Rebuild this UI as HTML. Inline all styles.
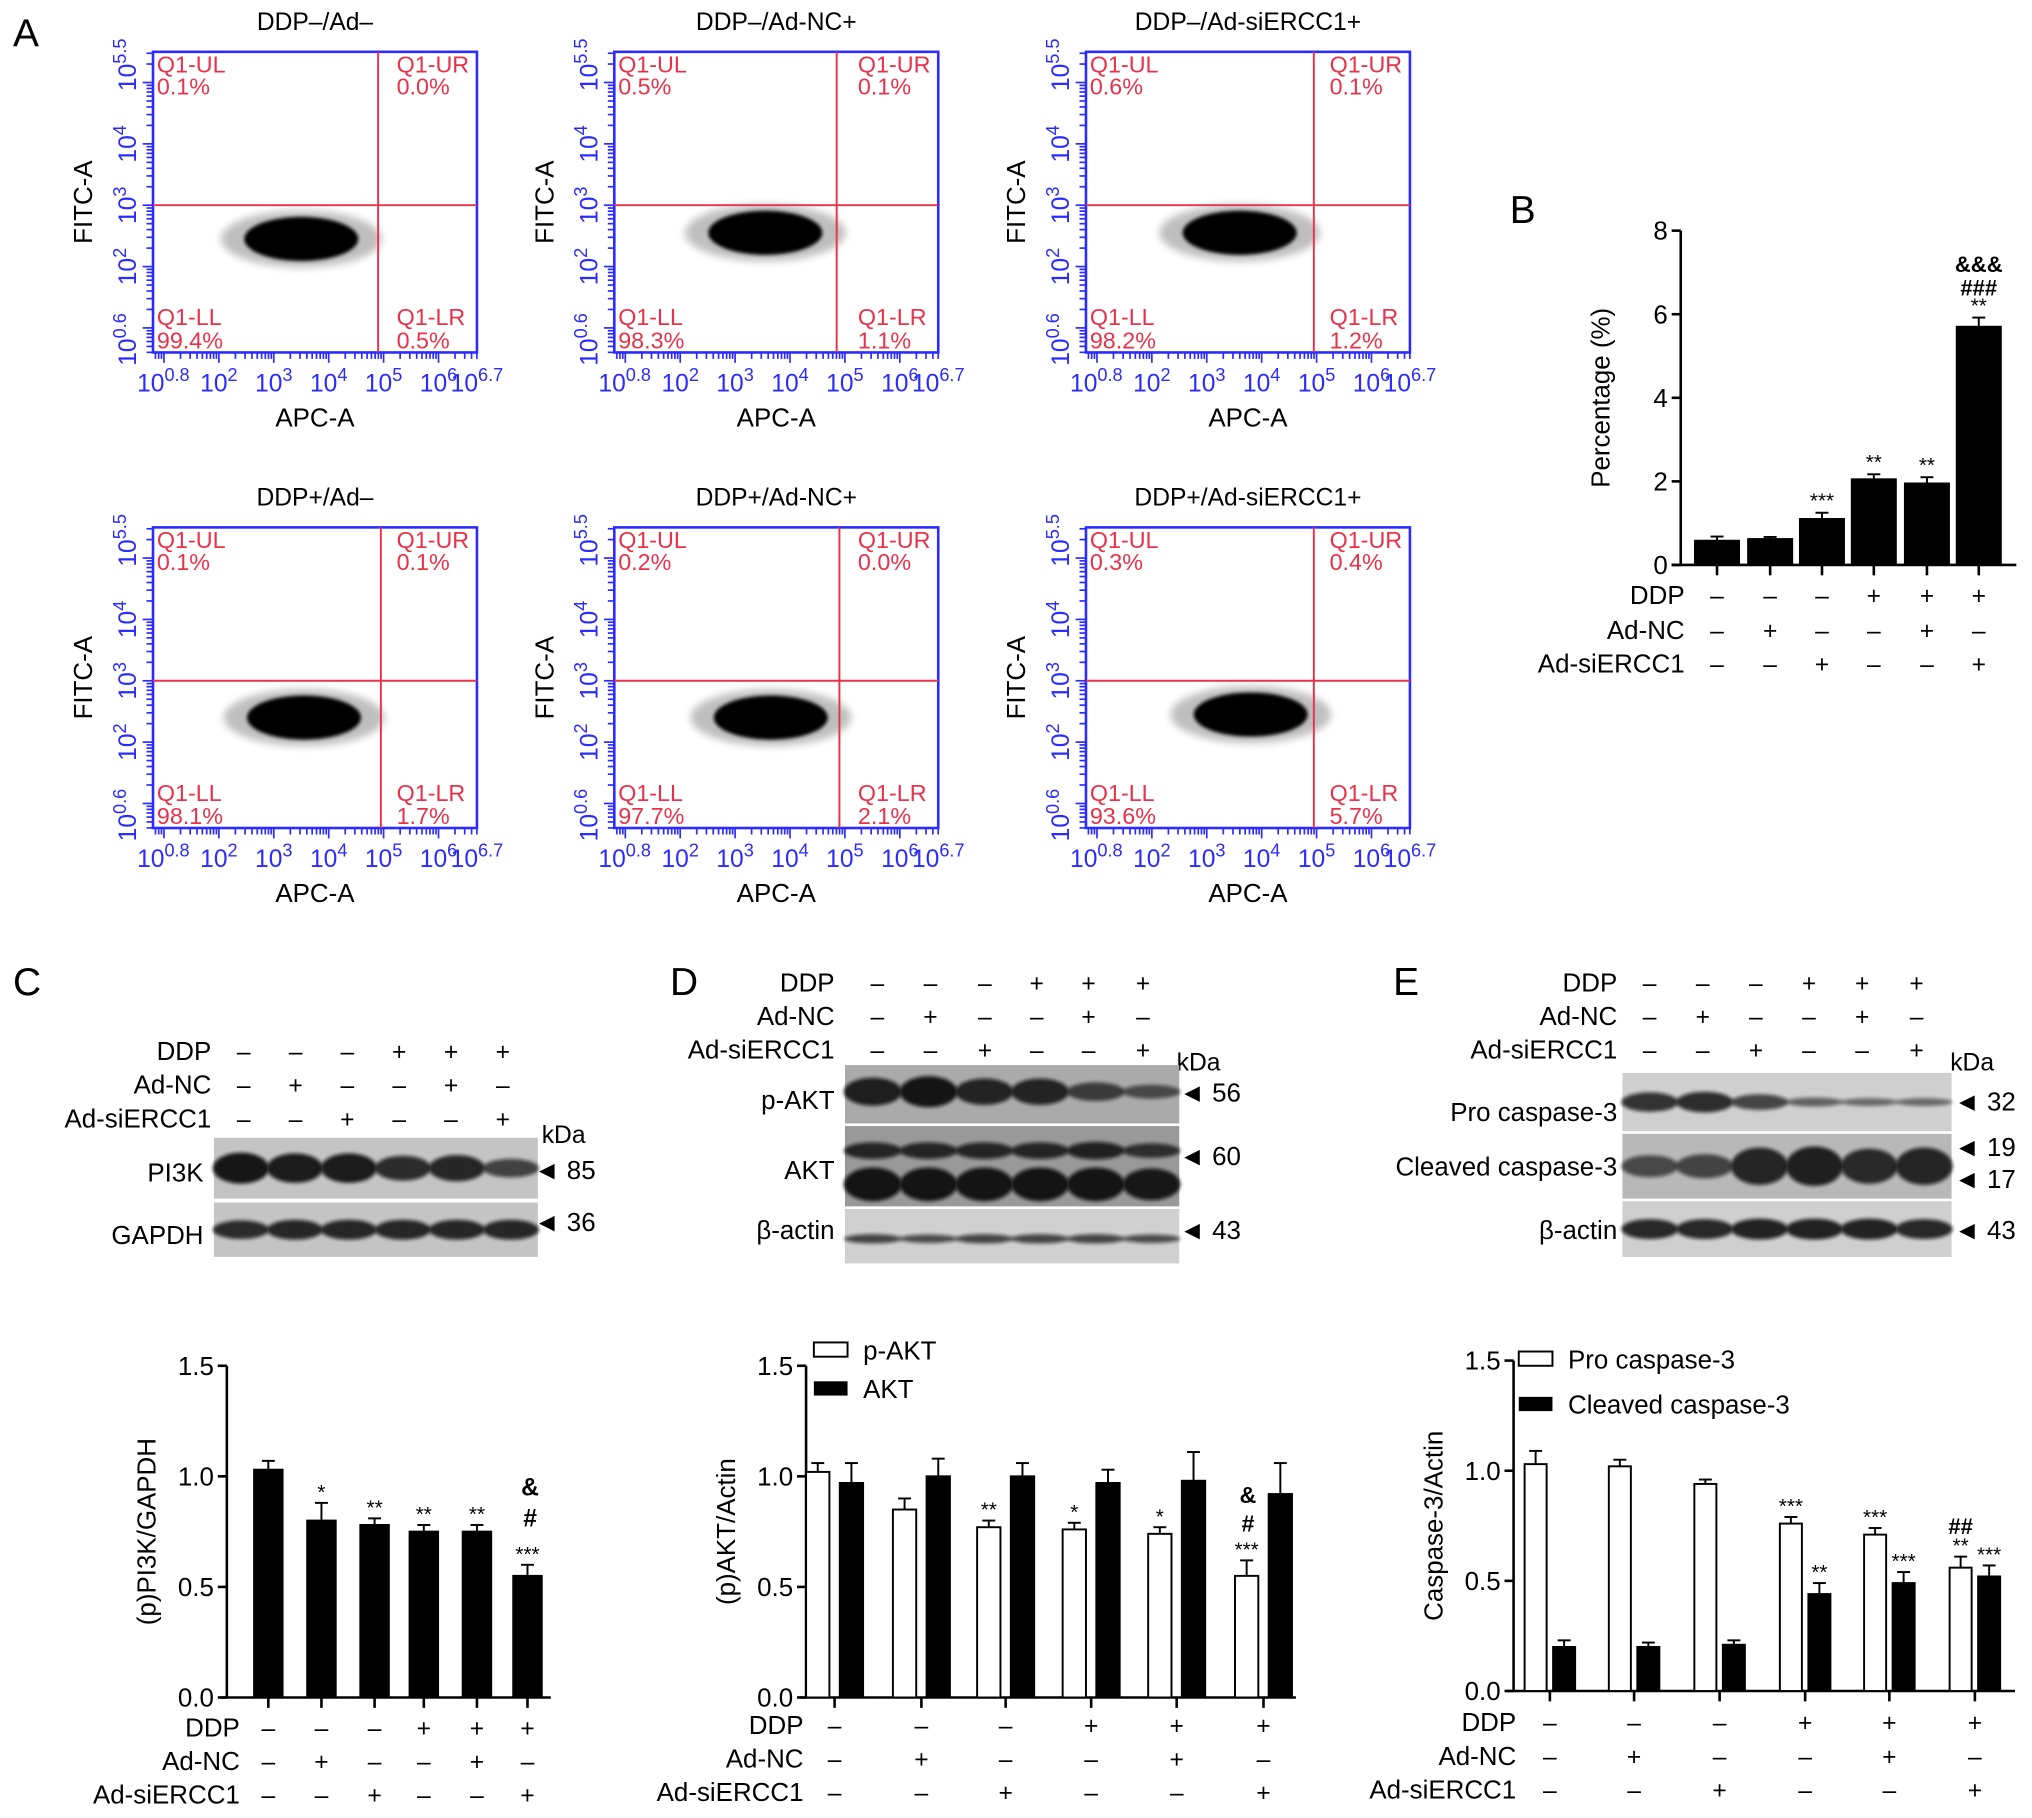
<!DOCTYPE html>
<html><head><meta charset="utf-8">
<style>
html,body{margin:0;padding:0;background:#fff;}
svg{display:block;font-family:"Liberation Sans",Arial,sans-serif;}
</style></head>
<body>
<svg id="fig" width="2032" height="1818" viewBox="0 0 1568 1403" xmlns="http://www.w3.org/2000/svg">
<defs><filter id="blur" x="-20%" y="-50%" width="140%" height="200%"><feGaussianBlur stdDeviation="3"/></filter>
<filter id="blur2" x="-20%" y="-50%" width="140%" height="200%"><feGaussianBlur stdDeviation="1.5"/></filter></defs>
<rect width="1568" height="1403" fill="#fff"/>
<text x="10" y="36" font-size="30">A</text>
<text x="1165" y="172" font-size="30">B</text>
<text x="10" y="768" font-size="30">C</text>
<text x="517" y="768" font-size="30">D</text>
<text x="1075" y="768" font-size="30">E</text>
</svg>
<script>
// ---------- DATA ----------
const flowTitles=["DDP–/Ad–","DDP–/Ad-NC+","DDP–/Ad-siERCC1+","DDP+/Ad–","DDP+/Ad-NC+","DDP+/Ad-siERCC1+"];
const flowUL=["0.1%","0.5%","0.6%","0.1%","0.2%","0.3%"];
const flowUR=["0.0%","0.1%","0.1%","0.1%","0.0%","0.4%"];
const flowLL=["99.4%","98.3%","98.2%","98.1%","97.7%","93.6%"];
const flowLR=["0.5%","1.1%","1.2%","1.7%","2.1%","5.7%"];
const flowGateX=[4.9,4.85,4.95,4.95,4.9,4.95];
const flowGateY=[3.0,3.0,3.0,3.0,3.0,3.0];
const cloudCX=[3.5,3.55,3.6,3.55,3.65,3.8];
const cloudCY=[2.45,2.55,2.55,2.4,2.4,2.45];
const xTickLabels=["0.8","2","3","4","5","6","6.7"];
const xTickVals=[0.8,2,3,4,5,6,6.7];
const yTickLabels=["0.6","2","3","4","5.5"];
const yTickVals=[0.6,2,3,4,5.5];

const bCats=["g1","g2","g3","g4","g5","g6"];
const bVals=[0.58,0.62,1.1,2.05,1.95,5.7];
const bErr=[0.1,0.05,0.15,0.12,0.15,0.22];
const bSig=["","","***","**","**","**"];
const bYTicks=[0,2,4,6,8];
const ddpSigns=["–","–","–","+","+","+"];
const ncSigns=["–","+","–","–","+","–"];
const siSigns=["–","–","+","–","–","+"];

const cVals=[1.03,0.8,0.78,0.75,0.75,0.55];
const cErr=[0.04,0.08,0.03,0.03,0.03,0.05];
const cSig=["","*","**","**","**","***"];
const dWhite=[1.02,0.85,0.77,0.76,0.74,0.55];
const dWhiteErr=[0.04,0.05,0.03,0.03,0.03,0.07];
const dBlack=[0.97,1.0,1.0,0.97,0.98,0.92];
const dBlackErr=[0.09,0.08,0.06,0.06,0.13,0.14];
const dSig=["","","**","*","*","***"];
const eWhite=[1.03,1.02,0.94,0.76,0.71,0.56];
const eWhiteErr=[0.06,0.03,0.02,0.03,0.03,0.05];
const eBlack=[0.2,0.2,0.21,0.44,0.49,0.52];
const eBlackErr=[0.03,0.02,0.02,0.05,0.05,0.05];
const eSigW=["","","","***","***","**"];
const eSigB=["","","","**","***","***"];
const barTicks=[0,0.5,1.0,1.5];
const barTickLabels=["0.0","0.5","1.0","1.5"];

// ---------- helpers ----------
const svg=document.getElementById('fig');
const NS="http://www.w3.org/2000/svg";
function el(tag,attrs,parent){const e=document.createElementNS(NS,tag);for(const k in attrs)e.setAttribute(k,attrs[k]);(parent||svg).appendChild(e);return e;}
function txt(x,y,s,size,attrs,parent){const e=el('text',Object.assign({x:x,y:y,'font-size':size},attrs||{}),parent);e.textContent=s;return e;}

// ---------- flow plots ----------
const flowBoxes=[[118,40],[474,40],[838,40],[118,407],[474,407],[838,407]];
const FW=250,FH=232;
flowBoxes.forEach((b,i)=>{
  const g=el('g',{});
  
  
  const x0=b[0],y0=b[1];
  const sx=v=>x0+(v-0.8)/5.9*FW;
  const sy=v=>y0+FH-(v-0.6)/4.9*FH;
  const t=txt(x0+FW/2,y0-17,flowTitles[i],19,{'text-anchor':'middle'},g);
  
  const cx=sx(cloudCX[i]),cy=sy(cloudCY[i]);
  const c1=el('ellipse',{cx:cx,cy:cy,rx:62,ry:22,fill:'#000',opacity:0.25,filter:'url(#blur)'},g);
  
  const c2=el('ellipse',{cx:cx,cy:cy,rx:44,ry:17,fill:'#000',filter:'url(#blur2)'},g);
  
  const r=el('rect',{x:x0,y:y0,width:FW,height:FH,fill:'none',stroke:'#2b2bff','stroke-width':2},g);
  
  const gx=sx(flowGateX[i]),gy=sy(flowGateY[i]);
  const l1=el('line',{x1:gx,y1:y0,x2:gx,y2:y0+FH,stroke:'#e8324a','stroke-width':1.5},g);
  
  const l2=el('line',{x1:x0,y1:gy,x2:x0+FW,y2:gy,stroke:'#e8324a','stroke-width':1.5},g);
  
  const rx=x0+FW-62;
  [["Q1-UL",x0+3,y0+16],[flowUL[i],x0+3,y0+33],["Q1-UR",rx,y0+16],[flowUR[i],rx,y0+33],
   ["Q1-LL",x0+3,y0+FH-21],[flowLL[i],x0+3,y0+FH-3],["Q1-LR",rx,y0+FH-21],[flowLR[i],rx,y0+FH-3]].forEach(q=>{
    const e=txt(q[1],q[2],q[0],18,{fill:'#e8324a'},g);
    
  });
  for(let d=0;d<=6;d++){for(let m=1;m<10;m++){const v=d+Math.log10(m);if(v<0.8||v>6.7)continue;
    el('line',{x1:sx(v),y1:y0+FH,x2:sx(v),y2:y0+FH+(m==1?8:5),stroke:'#2b2bff','stroke-width':1.3},g);}}
  for(let d=0;d<=5;d++){for(let m=1;m<10;m++){const v=d+Math.log10(m);if(v<0.6||v>5.5)continue;
    el('line',{x1:x0,y1:sy(v),x2:x0-(m==1?8:5),y2:sy(v),stroke:'#2b2bff','stroke-width':1.3},g);}}
  xTickVals.forEach((v,k)=>{
    const e=el('text',{x:sx(v)+(k==0?8:0),y:y0+FH+30,'font-size':19,fill:'#2b2bff','text-anchor':'middle'},g);
    
    e.innerHTML='10<tspan dy="-8" font-size="14">'+xTickLabels[k]+'</tspan>';
  });
  yTickVals.forEach((v,k)=>{
    const e=el('text',{x:0,y:0,'font-size':19,fill:'#2b2bff','text-anchor':'middle',transform:`translate(${x0-13},${sy(v)+(k==0?-10:k==4?10:0)}) rotate(-90)`},g);
    
    e.innerHTML='10<tspan dy="-8" font-size="14">'+yTickLabels[k]+'</tspan>';
  });
  const xa=txt(x0+FW/2,y0+FH+57,"APC-A",20,{'text-anchor':'middle'},g);
  
  const ya=txt(0,0,"FITC-A",20,{'text-anchor':'middle',transform:`translate(${x0-47},${y0+FH/2}) rotate(-90)`},g);
  
});

function signTable(xs,ys,labelX,name,fs){
  const g=el('g',{});
  
  
  const rows=[["DDP",ddpSigns],["Ad-NC",ncSigns],["Ad-siERCC1",siSigns]];
  rows.forEach((r,ri)=>{
    const l=txt(labelX,ys[ri],r[0],fs||20,{'text-anchor':'end'},g);
    
    r[1].forEach((s,ci)=>{const e=txt(xs[ci],ys[ri],s,19,{'text-anchor':'middle'},g);
      });
  });
}

function barAxis(ax,yTop,yBot,maxV,ticks,labels,title,name){
  const g=el('g',{});
  
  
  const sy=v=>yBot-(v/maxV)*(yBot-yTop);
  el('line',{x1:ax,y1:yTop,x2:ax,y2:yBot,stroke:'#000','stroke-width':2},g);
  ticks.forEach((v,k)=>{el('line',{x1:ax-7,y1:sy(v),x2:ax,y2:sy(v),stroke:'#000','stroke-width':2},g);
    const e=txt(ax-10,sy(v)+7,labels[k],20,{'text-anchor':'end'},g);
    });
  const t=txt(0,0,title,20,{'text-anchor':'middle',transform:`translate(${ax-55},${(yTop+yBot)/2}) rotate(-90)`},g);
  
  return {g,sy};
}
function bar(g,cx,w,v,err,sy,fill,name){
  const y=sy(v),yb=sy(0);
  const r=el('rect',{x:cx-w/2,y:y,width:w,height:yb-y,fill:fill,stroke:'#000','stroke-width':1.5},g);
  
  const ye=sy(v+err);
  el('line',{x1:cx,y1:y,x2:cx,y2:ye,stroke:'#000','stroke-width':1.5},g);
  el('line',{x1:cx-5,y1:ye,x2:cx+5,y2:ye,stroke:'#000','stroke-width':1.5},g);
  return ye;
}
function sig(g,x,y,s,size){const e=txt(x,y,s,size||16,{'text-anchor':'middle'},g);}

// ---------- B ----------
(function(){
  const {g,sy}=barAxis(1297,178,436,8,bYTicks,bYTicks.map(String),"Percentage (%)","chart-b");
  const xs=[1325,1366,1406,1446,1487,1527];
  el('line',{x1:1290,y1:436,x2:1556,y2:436,stroke:'#000','stroke-width':2},g);
  xs.forEach((x,i)=>{
    el('line',{x1:x,y1:436,x2:x,y2:444,stroke:'#000','stroke-width':2},g);
    const ye=bar(g,x,34,bVals[i],bErr[i],sy,'#000','bar-'+bCats[i]);
    if(bSig[i]) sig(g,x,ye-4,bSig[i],16);
  });
  const a=txt(1527,210,"&&&",17,{'text-anchor':'middle','font-weight':'bold'},g);
  const h=txt(1527,228,"###",17,{'text-anchor':'middle','font-weight':'bold'},g);
  signTable(xs,[466,493,519],1300,"chart-b-conditions");
})();

// ---------- Western blots ----------
function strip(x,y,w,h,bands,name,bg){
  const g=el('g',{});
  
  
  el('rect',{x:x,y:y,width:w,height:h,fill:bg||'#c4c4c4'},g);
  const cw=w/6;
  bands.forEach(b=>{
    b.v.forEach((v,k)=>{
      const e=el('ellipse',{cx:x+cw*(k+0.5),cy:y+h/2+(b.dy||0),rx:cw*0.52,ry:Math.max(b.hh*v/2,1.5),fill:'#111',opacity:0.35+0.6*v,filter:'url(#blur2)'},g);
      
    });
  });
}
function arrowLabel(x,y,s,name){const e=txt(x,y,'◄ '+s,20,{},null);}
function lbl(x,y,s,name){const e=txt(x,y,s,20,{'text-anchor':'end'});}
function kda(x,y){const e=txt(x,y,"kDa",19);}

// C blot
signTable([188,228,268,308,348,388],[818,844,870],163,"blot-c-conditions");
kda(418,882);
strip(165,878,250,47,[{v:[1,0.95,0.95,0.8,0.85,0.6],hh:24}],"blot-pi3k");
strip(165,928,250,42,[{v:[0.8,0.85,0.85,0.85,0.85,0.85],hh:18}],"blot-gapdh");
lbl(157,912,"PI3K","blot-label-pi3k");lbl(157,960,"GAPDH","blot-label-gapdh");
arrowLabel(412,910,"85","mw-85");arrowLabel(412,950,"36","mw-36");

// D blot
signTable([677,718,760,800,840,882],[765,791,817],644,"blot-d-conditions");
kda(908,826);
strip(652,822,258,45,[{v:[0.9,1,0.85,0.85,0.6,0.45],hh:24,dy:-2}],"blot-pakt",'#aaa');
strip(652,869,258,62,[{v:[0.8,0.8,0.8,0.8,0.85,0.7],hh:16,dy:-12},{v:[1,1,1,1,1,0.95],hh:26,dy:14}],"blot-akt",'#999');
strip(652,933,258,42,[{v:[0.6,0.55,0.6,0.6,0.6,0.55],hh:12,dy:2}],"blot-bactin-d",'#d0d0d0');
lbl(644,856,"p-AKT","blot-label-pakt");lbl(644,910,"AKT","blot-label-akt");lbl(644,956,"β-actin","blot-label-bactin-d");
arrowLabel(910,850,"56","mw-56");arrowLabel(910,899,"60","mw-60");arrowLabel(910,956,"43","mw-43-d");

// E blot
signTable([1273,1314,1355,1396,1437,1479],[765,791,817],1248,"blot-e-conditions");
kda(1505,826);
strip(1252,828,254,45,[{v:[0.75,0.8,0.6,0.35,0.3,0.3],hh:20}],"blot-pro-casp3",'#cfcfcf');
strip(1252,875,254,50,[{v:[0.5,0.55,0.85,0.9,0.8,0.85],hh:34}],"blot-cleaved-casp3",'#b8b8b8');
strip(1252,927,254,43,[{v:[0.85,0.85,0.9,0.9,0.9,0.85],hh:18}],"blot-bactin-e",'#cfcfcf');
lbl(1248,865,"Pro caspase-3","blot-label-pro");lbl(1248,907,"Cleaved caspase-3","blot-label-cleaved");lbl(1248,956,"β-actin","blot-label-bactin-e");
arrowLabel(1508,857,"32","mw-32");arrowLabel(1508,892,"19","mw-19");arrowLabel(1508,917,"17","mw-17");arrowLabel(1508,956,"43","mw-43-e");

// ---------- C bars ----------
(function(){
  const {g,sy}=barAxis(175,1054,1310,1.5,barTicks,barTickLabels,"(p)PI3K/GAPDH","chart-c");
  el('line',{x1:170,y1:1310,x2:425,y2:1310,stroke:'#000','stroke-width':2},g);
  const xs=[207,248,289,327,368,407];
  xs.forEach((x,i)=>{
    el('line',{x1:x,y1:1310,x2:x,y2:1318,stroke:'#000','stroke-width':2},g);
    const ye=bar(g,x,22,cVals[i],cErr[i],sy,'#000','bar-pi3k-'+(i+1));
    if(cSig[i]) sig(g,x,ye-3,cSig[i]);
  });
  txt(409,1154,"&",19,{'text-anchor':'middle','font-weight':'bold',},g);
  txt(409,1178,"#",19,{'text-anchor':'middle','font-weight':'bold',},g);
  signTable(xs,[1340,1366,1392],185,"chart-c-conditions");
})();

// ---------- D bars ----------
(function(){
  const {g,sy}=barAxis(622,1054,1310,1.5,barTicks,barTickLabels,"(p)AKT/Actin","chart-d");
  el('line',{x1:617,y1:1310,x2:1000,y2:1310,stroke:'#000','stroke-width':2},g);
  const xs=[644,711,776,842,908,975];
  xs.forEach((x,i)=>{
    el('line',{x1:x,y1:1310,x2:x,y2:1318,stroke:'#000','stroke-width':2},g);
    const yw=bar(g,x-13,18,dWhite[i],dWhiteErr[i],sy,'#fff','bar-pakt-'+(i+1));
    bar(g,x+13,18,dBlack[i],dBlackErr[i],sy,'#000','bar-akt-'+(i+1));
    if(dSig[i]) sig(g,x-13,yw-3,dSig[i]);
  });
  txt(963,1160,"&",18,{'text-anchor':'middle','font-weight':'bold',},g);
  txt(963,1182,"#",18,{'text-anchor':'middle','font-weight':'bold',},g);
  el('rect',{x:628,y:1036,width:26,height:11,fill:'#fff',stroke:'#000','stroke-width':1.5,},g);
  txt(666,1049,"p-AKT",20,{},g);
  el('rect',{x:628,y:1066,width:26,height:11,fill:'#000',},g);
  txt(666,1079,"AKT",20,{},g);
  signTable(xs,[1338,1364,1390],620,"chart-d-conditions");
})();

// ---------- E bars ----------
(function(){
  const {g,sy}=barAxis(1168,1050,1305,1.5,barTicks,barTickLabels,"Caspase-3/Actin","chart-e");
  el('line',{x1:1163,y1:1305,x2:1555,y2:1305,stroke:'#000','stroke-width':2},g);
  const xs=[1196,1261,1327,1393,1458,1524];
  xs.forEach((x,i)=>{
    el('line',{x1:x,y1:1305,x2:x,y2:1313,stroke:'#000','stroke-width':2},g);
    const yw=bar(g,x-11,17,eWhite[i],eWhiteErr[i],sy,'#fff','bar-pro-casp3-'+(i+1));
    const yb=bar(g,x+11,17,eBlack[i],eBlackErr[i],sy,'#000','bar-cleaved-casp3-'+(i+1));
    if(eSigW[i]) sig(g,x-11,yw-3,eSigW[i]);
    if(eSigB[i]) sig(g,x+11,yb-3,eSigB[i]);
  });
  txt(1513,1184,"##",17,{'text-anchor':'middle','font-weight':'bold',},g);
  el('rect',{x:1172,y:1043,width:26,height:11,fill:'#fff',stroke:'#000','stroke-width':1.5,},g);
  txt(1210,1056,"Pro caspase-3",20,{},g);
  el('rect',{x:1172,y:1078,width:26,height:11,fill:'#000',},g);
  txt(1210,1091,"Cleaved caspase-3",20,{},g);
  signTable(xs,[1336,1362,1388],1170,"chart-e-conditions");
})();
</script>
</body></html>
